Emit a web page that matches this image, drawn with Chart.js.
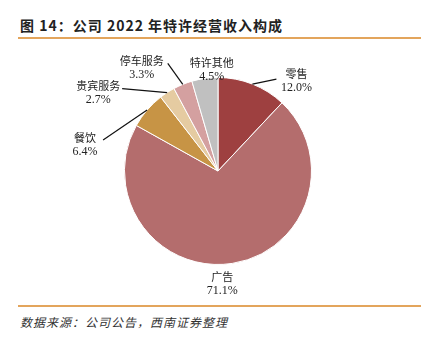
<!DOCTYPE html>
<html>
<head>
<meta charset="utf-8">
<script src="https://cdn.jsdelivr.net/npm/chart.js@4/dist/chart.umd.min.js"></script>
<style>
  html, body { margin: 0; padding: 0; background: #fff; }
  #wrap { position: relative; width: 426px; height: 340px; overflow: hidden; }
  #title { position: absolute; left: 20px; top: 15px; font: bold 14px "Noto Sans CJK SC", sans-serif; color: #222; letter-spacing: 1px; }
  .rule { position: absolute; left: 18px; width: 403px; height: 2px; background: #e3a55c; }
  #src { position: absolute; left: 20px; top: 313px; font: italic 12px "Noto Sans CJK SC", sans-serif; color: #333; letter-spacing: 1px; }
  #box { position: absolute; left: 0; top: 40px; width: 426px; height: 262px; }
</style>
</head>
<body>
<div id="wrap">
  <div id="title">图 14：公司 2022 年特许经营收入构成</div>
  <div class="rule" style="top:37px"></div>
  <div id="box"><canvas id="pie"></canvas></div>
  <div class="rule" style="top:305px"></div>
  <div id="src">数据来源：公司公告，西南证券整理</div>
</div>
<script>
// --- Données ---
const labels = ['零售', '广告', '餐饮', '贵宾服务', '停车服务', '特许其他'];
const values = [12.0, 71.1, 6.4, 2.7, 3.3, 4.5];
const colors = ['#9e4040', '#b46d6d', '#c79445', '#e5cba1', '#d4a0a0', '#c0c0c0'];

// décalage du texte / fin de trait par rapport au bord de chaque part
const labelOffset = [[44, -10], [-10, 13], [-62, 28], [-69, -7], [-41, -24], [7, -16]];
const lineEnd = [[24, -5], null, [-44, 30], [-45, -4], [-15, -21], null];

const fmtPct = (n) => n.toFixed(1) + '%';

// --- Étiquettes avec traits de rappel ---
const leaderLabels = {
  id: 'leaderLabels',
  afterDraw(chart) {
    const ctx = chart.ctx;
    const arcs = chart.getDatasetMeta(0).data;
    ctx.save();
    arcs.forEach((arc, i) => {
      const mid = (arc.startAngle + arc.endAngle) / 2;
      const ex = arc.x + arc.outerRadius * Math.cos(mid);
      const ey = arc.y + arc.outerRadius * Math.sin(mid);
      if (lineEnd[i]) {
        ctx.strokeStyle = '#111';
        ctx.lineWidth = 1.2;
        ctx.beginPath();
        ctx.moveTo(ex, ey);
        ctx.lineTo(ex + lineEnd[i][0], ey + lineEnd[i][1]);
        ctx.stroke();
      }
      const tx = ex + labelOffset[i][0];
      const ty = ey + labelOffset[i][1];
      ctx.fillStyle = '#222';
      ctx.textAlign = 'center';
      ctx.textBaseline = 'middle';
      ctx.font = '11px "Noto Sans CJK SC", sans-serif';
      ctx.fillText(labels[i], tx, ty);
      ctx.font = '12px "Liberation Serif", serif';
      ctx.fillText(fmtPct(values[i]), tx, ty + 14);
    });
    ctx.restore();
  }
};

new Chart(document.getElementById('pie'), {
  type: 'pie',
  data: {
    labels,
    datasets: [{
      data: values,
      backgroundColor: colors,
      borderColor: '#fff',
      borderWidth: 1
    }]
  },
  options: {
    responsive: true,
    maintainAspectRatio: false,
    animation: false,
    layout: { padding: { left: 10, top: 37, bottom: 37 } },
    plugins: {
      legend: { display: false },
      tooltip: { enabled: false }
    }
  },
  plugins: [leaderLabels]
});
</script>
</body>
</html>
